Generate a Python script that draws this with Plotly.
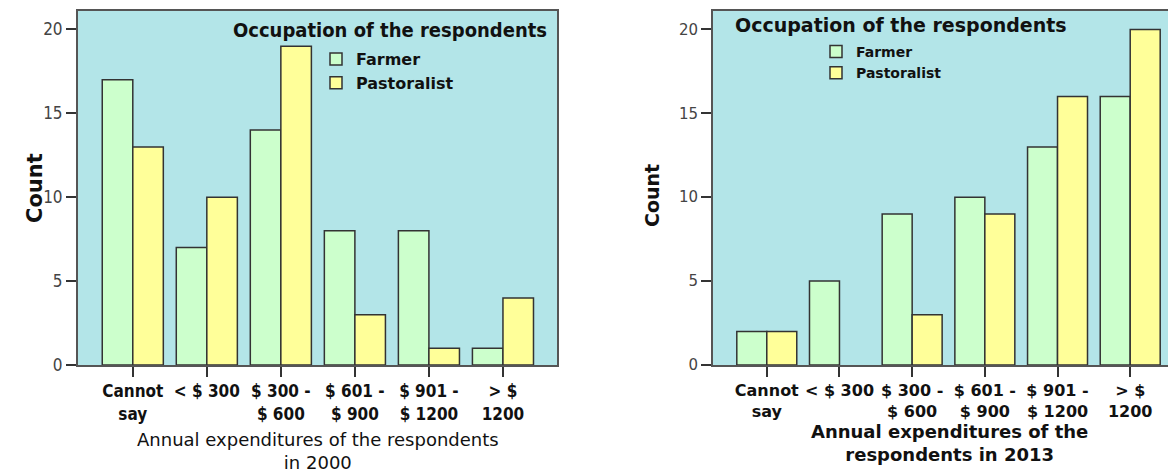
import plotly.graph_objects as go

# expenditure classes (shared by both panels)
categories = ["Cannot<br>say", "< $ 300", "$ 300 -<br>$ 600", "$ 601 -<br>$ 900",
              "$ 901 -<br>$ 1200", "> $<br>1200"]

# counts, year 2000
farmer_2000 = [17, 7, 14, 8, 8, 1]
pastoralist_2000 = [13, 10, 19, 3, 1, 4]

# counts, year 2013
farmer_2013 = [2, 5, 9, 10, 13, 16]
pastoralist_2013 = [2, 0, 3, 9, 16, 20]

y_ticks = [0, 5, 10, 15, 20]

BG = "#b3e5e8"
FARMER = "#ccffcc"
PASTORAL = "#ffff99"
EDGE = "#333333"
W, H = 1176, 475
OFF = 8  # page body margin

def px_x(p):
    # page pixel -> paper x
    return (p - OFF) / W

def px_y(p):
    # page pixel -> paper y (plot area spans page y 11..365)
    return 1 - (p - 11) / 354

def edge(vals):
    # no outline on empty bars
    return dict(color=EDGE, width=[1.5 if v > 0 else 0 for v in vals])

xs = list(range(len(categories)))
fig = go.Figure()
fig.add_trace(go.Bar(x=xs, y=farmer_2000, name="Farmer", marker=dict(color=FARMER, line=edge(farmer_2000)),
                     xaxis="x", yaxis="y", legend="legend"))
fig.add_trace(go.Bar(x=xs, y=pastoralist_2000, name="Pastoralist",
                     marker=dict(color=PASTORAL, line=edge(pastoralist_2000)),
                     xaxis="x", yaxis="y", legend="legend"))
fig.add_trace(go.Bar(x=xs, y=farmer_2013, name="Farmer", marker=dict(color=FARMER, line=edge(farmer_2013)),
                     xaxis="x2", yaxis="y2", legend="legend2"))
fig.add_trace(go.Bar(x=xs, y=pastoralist_2013, name="Pastoralist",
                     marker=dict(color=PASTORAL, line=edge(pastoralist_2013)),
                     xaxis="x2", yaxis="y2", legend="legend2"))

cond = "DejaVu Sans Condensed, sans-serif"
wide = "DejaVu Sans, Verdana, sans-serif"

xcommon = dict(tickmode="array", tickvals=xs, ticktext=categories, showline=True,
               linecolor="#555", linewidth=2, ticks="outside", ticklen=10, tickcolor=EDGE, tickwidth=1.5,
               showgrid=False, zeroline=False)
ycommon = dict(range=[0, 21.1], tickvals=y_ticks, showline=True, linecolor="#555", linewidth=2,
               ticks="outside", ticklen=10, tickcolor=EDGE, tickwidth=1.5, showgrid=False, zeroline=False)

fig.update_layout(
    width=W, height=H, margin=dict(l=0, r=0, t=3, b=118),
    paper_bgcolor="white", plot_bgcolor=BG,
    barmode="group", bargap=0.175, bargroupgap=0,
    xaxis=dict(domain=[px_x(78), px_x(557)], range=[-0.74, 5.73], mirror=True, anchor="y",
               tickfont=dict(family=cond, size=17, color="#111", weight="bold"), **xcommon),
    yaxis=dict(domain=[0, 1], anchor="x", mirror=True,
               tickfont=dict(family=cond, size=17, color="#444"), **ycommon),
    xaxis2=dict(domain=[px_x(713), 1.0], range=[-0.74, 5.74], mirror=True, anchor="y2",
                tickfont=dict(family=wide, size=16, color="#111", weight="bold"), **xcommon),
    yaxis2=dict(domain=[0, 1], anchor="x2", mirror=False,
                tickfont=dict(family=wide, size=15, color="#444"), **ycommon),
    legend=dict(x=px_x(316), y=px_y(42), xanchor="left", yanchor="top", bgcolor="rgba(0,0,0,0)",
                font=dict(family=wide, size=16, color="#111", weight="bold"), tracegroupgap=0),
    legend2=dict(x=px_x(816), y=px_y(36), xanchor="left", yanchor="top", bgcolor="rgba(0,0,0,0)",
                 font=dict(family=wide, size=14, color="#111", weight="bold"), tracegroupgap=0),
    showlegend=True,
)

def note(text, x, y, font, **kw):
    fig.add_annotation(text=text, x=px_x(x), y=px_y(y), xref="paper", yref="paper",
                       showarrow=False, font=font, **kw)

note("Occupation of the respondents", 549, 30,
     dict(family=cond, size=20, color="#111", weight="bold"), xanchor="right", yanchor="middle")
note("Occupation of the respondents", 733, 25,
     dict(family=wide, size=19, color="#111", weight="bold"), xanchor="left", yanchor="middle")
note("Count", 21, 188, dict(family=wide, size=21, color="#111", weight="bold"), textangle=-90)
note("Count", 652, 196, dict(family=wide, size=19, color="#111", weight="bold"), textangle=-90)
note("Annual expenditures of the respondents<br>in 2000", 318, 451,
     dict(family=wide, size=18, color="#111"), xanchor="center", yanchor="middle")
note("Annual expenditures of the<br>respondents in 2013", 950, 443,
     dict(family=wide, size=18, color="#111", weight="bold"), xanchor="center", yanchor="middle")

fig.write_html("out.html")
